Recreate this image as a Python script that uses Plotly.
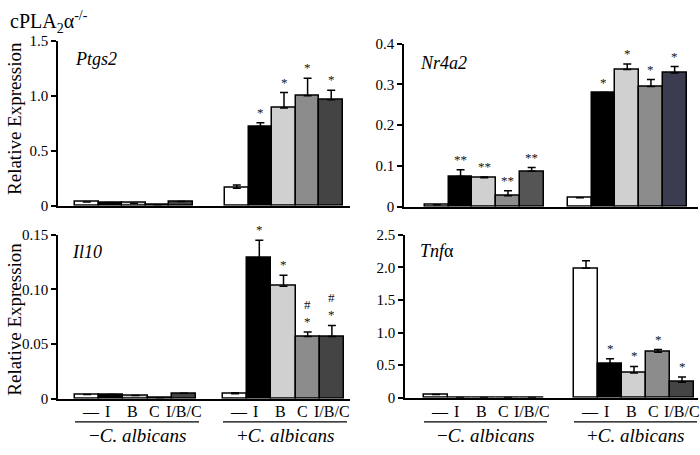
import plotly.graph_objects as go

W, H = 700, 455
SERIF = "Liberation Serif, Times New Roman, serif"

conditions = ["—", "I", "B", "C", "I/B/C"]
group_labels = ["−<i>C. albicans</i>", "+<i>C. albicans</i>"]

# Ptgs2
ptgs2_minus = [0.035, 0.03, 0.024, 0.01, 0.038]
ptgs2_plus = [0.16, 0.72, 0.89, 1.0, 0.965]
ptgs2_plus_errtop = [0.19, 0.755, 1.03, 1.16, 1.05]
ptgs2_plus_sig = ["", "*", "*", "*", "*"]

# Nr4a2
nr4a2_minus = [0.005, 0.074, 0.071, 0.027, 0.087]
nr4a2_minus_errtop = [None, 0.091, 0.073, 0.039, 0.096]
nr4a2_minus_sig = ["", "**", "**", "**", "**"]
nr4a2_plus = [0.022, 0.28, 0.337, 0.295, 0.328]
nr4a2_plus_errtop = [None, None, 0.35, 0.312, 0.344]
nr4a2_plus_sig = ["", "*", "*", "*", "*"]

# Il10
il10_minus = [0.004, 0.004, 0.003, 0.001, 0.005]
il10_plus = [0.0045, 0.129, 0.103, 0.057, 0.057]
il10_plus_errtop = [0.0055, 0.145, 0.113, 0.061, 0.067]
il10_plus_sig = ["", "*", "*", "#<br>*", "#<br>*"]

# Tnfa
tnf_minus = [0.05, 0.005, 0.005, 0.005, 0.005]
tnf_plus = [1.985, 0.52, 0.38, 0.70, 0.24]
tnf_plus_errtop = [2.1, 0.60, 0.48, 0.74, 0.32]
tnf_plus_sig = ["", "*", "*", "*", "*"]

colors = ["#ffffff", "#000000", "#d0d0d0", "#8c8c8c", "#444444"]

# small horizontal nudges of the category labels relative to bar centres (px)
label_nudge = [4, -4, -3, -5, 0]

panels = [
    dict(name="<i>Ptgs2</i>", minus=ptgs2_minus, minus_err=[None]*5, minus_sig=[""]*5,
         plus=ptgs2_plus, plus_err=ptgs2_plus_errtop, plus_sig=ptgs2_plus_sig,
         ymax=1.5, tickvals=[0, 0.5, 1.0, 1.5], ticktext=["0", "0.5", "1.0", "1.5"],
         ax=(58, 350), yb=(205, 34), g=(75, 225), bw=23.6, label=(73, 53),
         cols_plus=colors, cols_minus=colors),
    dict(name="<i>Nr4a2</i>", minus=nr4a2_minus, minus_err=nr4a2_minus_errtop, minus_sig=nr4a2_minus_sig,
         plus=nr4a2_plus, plus_err=nr4a2_plus_errtop, plus_sig=nr4a2_plus_sig,
         ymax=0.4, tickvals=[0, 0.1, 0.2, 0.3, 0.4], ticktext=["0", "0.1", "0.2", "0.3", "0.4"],
         ax=(404, 698), yb=(206, 37), g=(425, 568), bw=23.7, label=(418, 57),
         cols_plus=colors[:4] + ["#3c3c50"], cols_minus=colors[:4] + ["#555555"]),
    dict(name="<i>Il10</i>", minus=il10_minus, minus_err=[None]*5, minus_sig=[""]*5,
         plus=il10_plus, plus_err=il10_plus_errtop, plus_sig=il10_plus_sig,
         ymax=0.15, tickvals=[0, 0.05, 0.10, 0.15], ticktext=["0", "0.05", "0.10", "0.15"],
         ax=(58, 350), yb=(405, 235), g=(75, 223), bw=24.2, label=(70, 253),
         cols_plus=colors, cols_minus=colors),
    dict(name="<i>Tnf</i>α", minus=tnf_minus, minus_err=[None]*5, minus_sig=[""]*5,
         plus=tnf_plus, plus_err=tnf_plus_errtop, plus_sig=tnf_plus_sig,
         ymax=2.5, tickvals=[0, 0.5, 1.0, 1.5, 2.0, 2.5], ticktext=["0", "0.5", "1.0", "1.5", "2.0", "2.5"],
         ax=(405, 698), yb=(404, 235), g=(424, 574), bw=24.0, label=(418, 252),
         cols_plus=colors, cols_minus=colors),
]

fig = go.Figure()
annotations = []
shapes = []


def px(x):
    return x / W


def py(y):
    return 1 - y / H


for k, p in enumerate(panels, start=1):
    xa = "x" if k == 1 else f"x{k}"
    ya = "y" if k == 1 else f"y{k}"
    axl, axr = p["ax"]
    bw = p["bw"]
    xs, vals, tops, sigs, cols = [], [], [], [], []
    for gi, (v, e, s, c) in enumerate([
        (p["minus"], p["minus_err"], p["minus_sig"], p["cols_minus"]),
        (p["plus"], p["plus_err"], p["plus_sig"], p["cols_plus"]),
    ]):
        start = p["g"][gi] - axl
        for i in range(5):
            xs.append(start + (i + 0.5) * bw)
            vals.append(v[i])
            tops.append(e[i])
            sigs.append(s[i])
            cols.append(c[i])
    err_up = [(t - v) if t is not None else None for t, v in zip(tops, vals)]
    fig.add_trace(go.Bar(
        x=xs, y=vals, width=bw, xaxis=xa, yaxis=ya,
        marker=dict(color=cols, line=dict(color="black", width=1.5)),
        error_y=dict(type="data", symmetric=False, array=err_up,
                     arrayminus=[0] * len(vals), color="black", thickness=1.5, width=4),
        showlegend=False, hoverinfo="skip",
    ))
    for x, v, t, s in zip(xs, vals, tops, sigs):
        if s:
            annotations.append(dict(
                x=x, y=(t if t is not None else v), xref=xa, yref=ya,
                text=s, showarrow=False, yanchor="bottom", yshift=1,
                font=dict(family=SERIF, size=13, color="#111111"),
            ))
    x0, x1 = px(axl), px(axr)
    y0, y1 = py(p["yb"][0]), py(p["yb"][1])
    fig.update_layout({
        ("xaxis" if k == 1 else f"xaxis{k}"): dict(
            domain=[x0, x1], anchor=ya, range=[0, axr - axl],
            showline=True, linecolor="black", linewidth=1.5,
            showticklabels=False, ticks="", showgrid=False, zeroline=False, fixedrange=True),
        ("yaxis" if k == 1 else f"yaxis{k}"): dict(
            domain=[y0, y1], anchor=xa, range=[0, p["ymax"]],
            showline=True, linecolor="black", linewidth=1.5,
            ticks="outside", ticklen=5, tickwidth=1.5, tickcolor="black",
            tickvals=p["tickvals"], ticktext=p["ticktext"],
            tickfont=dict(family=SERIF, size=15, color="black"),
            showgrid=False, zeroline=False, fixedrange=True),
    })
    annotations.append(dict(
        x=px(p["label"][0]), y=py(p["label"][1]), xref="paper", yref="paper",
        text=p["name"], showarrow=False, xanchor="left", yanchor="middle",
        font=dict(family=SERIF, size=18, color="black"),
    ))
    # category labels and group brackets for the bottom row
    if k >= 3:
        for idx, x in enumerate(xs):
            annotations.append(dict(
                x=x, y=py(418), xref=xa, yref="paper", xshift=label_nudge[idx % 5],
                text=conditions[idx % 5], showarrow=False, yanchor="middle",
                font=dict(family=SERIF, size=16, color="black"),
            ))
        for gi in range(2):
            gs = p["g"][gi] - axl
            ge = gs + 5 * bw + 3
            shapes.append(dict(type="line", xref=xa, yref="paper",
                               x0=gs, x1=ge, y0=py(429), y1=py(429),
                               line=dict(color="black", width=1.2)))
            annotations.append(dict(
                x=(gs + ge) / 2, y=py(443), xref=xa, yref="paper",
                text=group_labels[gi], showarrow=False, yanchor="middle",
                font=dict(family=SERIF, size=19, color="black"),
            ))

# y axis titles
for yc in (115, 323):
    annotations.append(dict(
        x=px(15), y=py(yc), xref="paper", yref="paper",
        text="Relative Expression", showarrow=False, textangle=-90,
        xanchor="center", yanchor="middle",
        font=dict(family=SERIF, size=19, color="black"),
    ))

annotations.append(dict(
    x=px(8), y=py(15), xref="paper", yref="paper",
    text="cPLA<sub>2</sub>α<sup>-/-</sup>", showarrow=False,
    xanchor="left", yanchor="middle",
    font=dict(family=SERIF, size=20, color="black"),
))

fig.update_layout(
    width=W, height=H, margin=dict(l=0, r=0, t=0, b=0),
    paper_bgcolor="white", plot_bgcolor="white",
    annotations=annotations, shapes=shapes, bargap=0,
)

fig.write_html("out.html", config={"displayModeBar": False},
               post_script="document.body.style.margin='0px';")
